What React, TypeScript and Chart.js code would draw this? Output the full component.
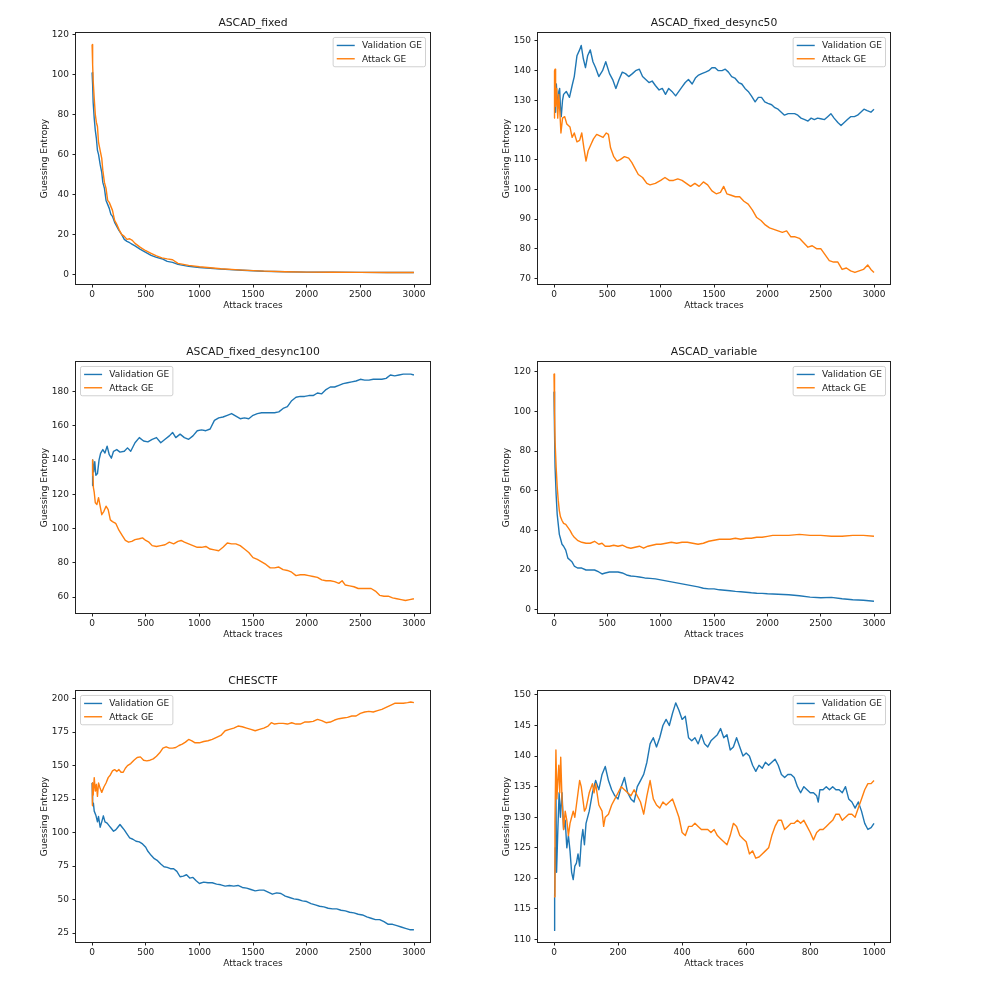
import React, { useEffect, useRef } from "react";
import { Chart, registerables } from "chart.js";

Chart.register(...registerables);

type P = [number, number];

const FONT = '"DejaVu Sans", "Liberation Sans", sans-serif';
const TXT = "#1a1a1a";
const BLUE = "#1f77b4";
const ORANGE = "#ff7f0e";

// ---------- text ----------
const titles = [
  "ASCAD_fixed",
  "ASCAD_fixed_desync50",
  "ASCAD_fixed_desync100",
  "ASCAD_variable",
  "CHESCTF",
  "DPAV42",
];
const seriesLabels = ["Validation GE", "Attack GE"];
const xLabel = "Attack traces";
const yLabel = "Guessing Entropy";

// ---------- ticks ----------
const xTicks3000 = [0, 500, 1000, 1500, 2000, 2500, 3000];
const xTicks1000 = [0, 200, 400, 600, 800, 1000];
const yTicksFixed = [0, 20, 40, 60, 80, 100, 120];
const yTicksD50 = [70, 80, 90, 100, 110, 120, 130, 140, 150];
const yTicksD100 = [60, 80, 100, 120, 140, 160, 180];
const yTicksVariable = [0, 20, 40, 60, 80, 100, 120];
const yTicksChes = [25, 50, 75, 100, 125, 150, 175, 200];
const yTicksDpa = [110, 115, 120, 125, 130, 135, 140, 145, 150];

// axis ranges (data extent + 5% margin)
const xRange3000 = [-149.95, 3148.95];
const xRange1000 = [-49.95, 1048.95];
const yRangeFixed = [-4.85, 120.8];
const yRangeD50 = [68.1, 152.7];
const yRangeD100 = [50.7, 197.1];
const yRangeVariable = [-1.7, 125.0];
const yRangeChes = [18.3, 205.7];
const yRangeDpa = [109.6, 150.65];

// ---------- data: [attack traces, guessing entropy] ----------
const fixedVal: P[] = [[0,101],[5,95],[10,86],[20,78],[30,72],[40,68],[50,62],[60,60],[75,55],[90,51],[100,46],[115,43],[130,37],[145,35],[160,33],[175,30],[190,29],[210,26],[230,24],[250,22],[275,20],[300,17.5],[325,16.5],[350,15.8],[375,15],[400,14.2],[450,12.5],[500,11],[550,9.5],[600,8.5],[650,7.8],[700,6.5],[750,6],[800,5],[900,4],[1000,3.4],[1100,3],[1200,2.6],[1400,2],[1600,1.5],[1800,1.3],[2000,1.1],[2250,1],[2500,0.95],[2750,0.9],[2999,0.9]];
const fixedAtk: P[] = [[0,115],[5,105],[10,97],[20,88],[30,80],[40,76],[50,74],[60,66],[75,62],[90,58],[100,52],[115,46],[130,43],[145,37],[160,36],[175,34],[190,32],[210,27],[230,25],[250,22.5],[275,20],[300,19],[325,17.5],[350,17.8],[375,17],[400,15.5],[450,13.5],[500,11.8],[550,10.5],[600,9.2],[650,8.2],[700,7.7],[750,7.3],[800,5.5],[900,4.5],[1000,3.8],[1100,3.3],[1200,2.8],[1400,2.1],[1600,1.6],[1800,1.3],[2000,1.1],[2250,1],[2500,0.95],[2750,0.9],[2999,0.9]];

const d50Val: P[] = [[0,128],[8,134],[15,126],[22,135.5],[30,130],[37,127.5],[45,133],[53,134],[60,128],[68,124.5],[80,130],[90,132],[115,133],[145,131],[170,135],[190,138],[215,145],[240,147],[255,148.5],[275,144],[295,141],[315,145],[340,147],[365,143],[390,141],[420,138],[455,140],[485,143],[520,139],[550,137],[580,134],[610,137],[640,139.5],[670,139],[700,138],[735,139],[765,140],[800,140.5],[830,138],[860,137],[890,136],[920,136.5],[950,135],[985,133.5],[1015,134],[1045,132],[1075,134],[1105,133],[1140,131.5],[1170,133],[1200,134.5],[1230,136],[1260,137],[1295,135.5],[1325,137.5],[1355,138.5],[1385,139],[1420,139.5],[1450,140],[1480,141],[1510,141],[1540,140],[1575,140],[1605,140.5],[1635,139.5],[1665,138],[1695,137.5],[1730,136],[1760,135.5],[1790,134],[1820,133],[1850,131.5],[1885,129.5],[1915,131],[1945,131],[1975,129.5],[2005,129],[2040,128.5],[2070,127.5],[2100,127],[2130,126],[2160,125],[2195,125.5],[2225,125.5],[2255,125.5],[2285,125],[2315,124],[2350,123.5],[2380,123],[2410,124],[2440,123.5],[2470,124],[2500,123.8],[2535,123.5],[2565,124.5],[2595,125.5],[2625,124],[2660,122.5],[2690,121.5],[2720,122.5],[2750,123.5],[2780,124.5],[2815,124.5],[2845,125],[2875,126],[2905,127],[2935,126.5],[2970,126],[2999,127]];
const d50Atk: P[] = [[0,124],[5,140],[10,140.5],[15,128],[25,134],[35,124],[45,132],[55,126],[65,119],[80,124],[100,124.5],[120,122],[150,121],[170,117.5],[190,119],[215,116],[240,116.5],[260,119],[280,114],[300,109.5],[320,113],[345,115],[370,117],[400,118.5],[430,118],[460,117.5],[490,119],[510,118.5],[530,114],[560,111],[590,109.5],[620,110],[660,111],[700,110.5],[730,109],[760,107],[790,105],[830,104],[870,102],[900,101.5],[950,102],[1000,103],[1040,104],[1080,103],[1120,103],[1160,103.5],[1200,103],[1240,102],[1280,101],[1320,102],[1360,101],[1400,102.5],[1440,101.5],[1480,99.5],[1520,98.5],[1560,99],[1590,101],[1620,98.5],[1660,98],[1700,97.5],[1740,97.5],[1780,96],[1820,95],[1860,93],[1900,90.5],[1940,89.5],[1980,88],[2020,87],[2060,86.5],[2100,86],[2140,85.5],[2180,86],[2220,84],[2260,84],[2300,83.5],[2340,82],[2380,80.5],[2420,81],[2460,80],[2500,80],[2540,78],[2580,76],[2620,75.5],[2660,75.5],[2700,73],[2740,73.5],[2780,72.5],[2820,72],[2860,72.5],[2900,73],[2940,74.5],[2970,73],[2999,72]];

const d100Val: P[] = [[0,125],[5,140],[15,133],[25,139],[35,131],[50,132],[65,140],[80,144],[100,146],[120,144],[140,148],[160,143],[180,141],[200,145],[230,146],[260,144.5],[300,145],[330,147],[360,145],[400,150],[440,153],[480,151],[520,150.5],[560,152],[600,153],[640,150],[680,152],[720,154],[750,156],[780,153],[820,155],[860,153],[900,152],[940,154],[980,157],[1020,157.5],[1060,157],[1100,158],[1140,163],[1180,164.5],[1220,165],[1260,166],[1300,167],[1340,165.5],[1380,164],[1420,164.5],[1460,164],[1500,166],[1540,167],[1580,167.5],[1620,167.5],[1660,167.5],[1700,167.5],[1740,168],[1780,170],[1820,171],[1860,174.5],[1900,176.5],[1940,177],[1980,177],[2020,177.5],[2060,177.5],[2100,179],[2140,178.5],[2180,181],[2220,182.5],[2260,182.5],[2300,183.5],[2340,184.5],[2380,185],[2420,185.5],[2460,186],[2500,187],[2540,186.5],[2580,186.5],[2620,187],[2660,187],[2700,187],[2740,187.5],[2780,189.5],[2820,189],[2860,189.5],[2900,190],[2940,190],[2970,190],[2999,189.5]];
const d100Atk: P[] = [[0,131],[5,140],[12,124],[20,121],[30,115],[45,114],[60,118],[75,113],[90,108],[110,110],[130,113],[150,111],[170,105],[190,104],[220,103],[250,99],[280,96],[310,93],[340,92],[370,92.5],[400,93.5],[440,94],[470,94.5],[500,93],[530,92],[560,90],[600,89.5],[640,90],[680,90.5],[720,92],[760,91],[800,92.5],[830,93],[860,92],[900,91],[940,90],[980,89],[1020,89],[1060,89.5],[1100,88],[1140,87.5],[1180,87],[1220,89],[1260,91.5],[1300,91],[1340,91],[1380,90],[1420,88],[1460,86],[1500,83],[1540,82],[1580,80.5],[1620,79],[1660,77],[1700,77],[1740,77.5],[1780,76],[1820,75.5],[1860,74.5],[1900,72.5],[1940,73],[1980,73],[2020,72.5],[2060,72],[2100,71.5],[2140,70],[2180,69.5],[2220,69.5],[2260,69],[2300,68],[2330,69.5],[2360,67],[2400,66.5],[2440,66],[2480,65],[2520,65],[2560,65],[2600,65],[2640,63.5],[2680,61],[2720,60.5],[2760,60.5],[2800,59.5],[2840,59],[2880,58.5],[2920,58],[2960,58.5],[2999,59]];

const varVal: P[] = [[0,110],[5,90],[10,72],[20,58],[30,48],[40,43],[50,38],[60,36],[75,33],[90,32],[110,30],[130,26],[150,25],[170,24],[190,22],[220,21],[260,21],[300,20],[340,20],[380,20],[420,19],[450,18],[480,18.5],[520,19],[560,19],[600,19],[640,18.5],[680,17.5],[720,17],[760,16.8],[800,16.5],[850,16],[900,15.8],[950,15.5],[1000,15],[1050,14.5],[1100,14],[1150,13.5],[1200,13],[1250,12.5],[1300,12],[1350,11.5],[1400,10.8],[1450,10.5],[1500,10.5],[1550,10],[1600,9.8],[1650,9.5],[1700,9.2],[1750,9],[1800,8.8],[1850,8.5],[1900,8.3],[1950,8.2],[2000,8],[2100,7.8],[2200,7.5],[2300,7],[2400,6.3],[2500,6],[2600,6.2],[2700,5.5],[2800,5],[2900,4.7],[2999,4.2]];
const varAtk: P[] = [[0,119],[5,100],[10,85],[20,72],[30,62],[40,55],[50,50],[60,47],[75,45],[90,43.5],[110,43],[130,41.5],[150,40],[170,38],[190,36.5],[220,35],[260,34],[300,33.5],[340,33.5],[380,34.5],[420,33],[450,33.5],[480,32],[520,32],[560,32.5],[600,32],[640,32.5],[680,31.5],[720,31],[760,31.5],[800,32],[840,31],[880,32],[920,32.5],[960,33],[1000,33],[1050,33.5],[1100,34],[1150,33.5],[1200,34],[1250,34],[1300,33.5],[1350,33],[1400,33.5],[1450,34.5],[1500,35],[1550,35.5],[1600,35.5],[1650,35.5],[1700,36],[1750,35.5],[1800,36],[1850,36],[1900,36.5],[1950,36.5],[2000,37],[2050,37.5],[2100,37.5],[2200,37.5],[2300,38],[2400,37.5],[2500,37.5],[2600,37],[2700,37],[2800,37.5],[2900,37.5],[2999,37]];

const chesVal: P[] = [[0,137],[5,121],[12,122],[20,116],[35,113],[50,108],[60,112],[75,104],[90,108],[105,112.5],[120,108],[140,107],[160,105],[180,103],[200,101],[220,102],[240,104],[260,106],[280,104],[300,102],[320,99.5],[350,96],[380,95],[410,93.5],[440,93],[470,91.5],[500,89],[520,86],[550,83],[580,80.5],[610,79],[640,76.5],[670,74.5],[700,74],[730,73],[760,73],[790,71],[820,67],[850,67.5],[880,68.5],[910,66],[940,66.5],[970,64],[1000,62],[1040,63],[1080,62.5],[1120,62.5],[1160,61.5],[1200,61],[1240,60],[1280,60.5],[1320,60],[1360,60.5],[1400,59],[1440,58.5],[1480,57.5],[1520,56.5],[1560,57],[1600,57],[1640,55.5],[1680,54],[1720,55],[1760,54.5],[1800,52.5],[1840,51.5],[1880,50.5],[1920,50],[1960,49],[2000,48.5],[2040,47],[2080,46],[2120,45],[2160,44.5],[2200,43.5],[2240,43],[2280,43],[2320,42],[2360,41.5],[2400,40.5],[2440,40],[2480,39],[2520,38.5],[2560,37],[2600,36],[2640,35],[2680,35],[2720,33.5],[2760,31.5],[2800,31.5],[2840,30.5],[2880,29.5],[2920,28.5],[2960,27.5],[2999,27.5]];
const chesAtk: P[] = [[0,120],[3,137],[10,128],[20,141],[30,131],[40,136],[50,127],[60,137],[75,133],[90,130],[110,134],[130,137],[150,141],[170,143],[190,146],[210,147],[230,145.5],[250,147],[270,145],[290,145],[310,148],[330,150],[360,151.5],[390,154],[420,156],[450,156.5],[480,154],[510,153.5],[540,154],[570,155],[600,157],[630,159.5],[660,163],[690,164],[720,163],[750,163],[780,163.5],[810,165],[840,166],[870,167.5],[900,169.5],[930,168.5],[960,167],[1000,167],[1040,168],[1080,168.5],[1120,169.5],[1160,171],[1200,172.5],[1240,176],[1280,177],[1320,178],[1360,179.5],[1400,179],[1440,178],[1480,177],[1520,176],[1560,177],[1600,178],[1640,179.5],[1670,182],[1700,181],[1740,181.5],[1780,181.5],[1820,181],[1860,182],[1900,181],[1940,181],[1980,182.5],[2020,182.5],[2060,183],[2100,184.5],[2140,183.5],[2180,182],[2220,182.5],[2260,184],[2300,185],[2340,185.5],[2380,186],[2420,187],[2460,187],[2500,189],[2540,190],[2580,190.5],[2620,190],[2660,191],[2700,192],[2740,193.5],[2780,195],[2820,196.5],[2860,196.5],[2900,196.5],[2940,197],[2970,197.5],[2999,197]];

const dpaVal: P[] = [[0,111.5],[2,117],[4,125],[6,134],[8,121],[12,128],[16,134],[20,130],[25,134],[30,128],[35,129.5],[40,125],[45,127],[50,124.5],[55,121],[60,119.8],[65,122],[70,122.5],[75,124],[80,122],[85,126],[90,128],[95,125.5],[100,129],[110,131],[120,134],[130,136],[140,134.5],[150,137],[160,138.3],[170,136],[180,134.5],[190,133.5],[200,133],[210,135],[220,136.5],[230,134],[240,133],[250,132.5],[260,135],[270,136],[280,137],[290,139],[300,142],[310,143],[320,141.5],[330,143],[340,145],[350,146],[360,145],[370,147],[380,148.7],[390,147.5],[400,146],[410,146.5],[420,143],[430,142.5],[440,143],[450,142],[460,143.5],[470,142],[480,141.5],[490,142.5],[500,143],[510,143.5],[520,144.5],[530,143],[540,143.5],[550,141],[560,141.5],[570,143],[580,141.5],[590,140],[600,140.5],[610,140],[620,138.5],[630,137.5],[640,138.5],[650,138],[660,139],[670,138.5],[680,139],[690,139.5],[700,138.5],[710,137],[720,136.5],[730,137],[740,137],[750,136.5],[760,135],[770,134],[780,135],[790,134.5],[800,134],[810,134],[820,133.5],[825,132.5],[830,134.5],[840,134.5],[850,135],[860,134.5],[870,135],[880,134.5],[890,134.5],[900,134],[910,135],[920,133],[930,132.5],[940,131.5],[950,132.5],[960,131],[970,129],[980,128],[990,128.3],[999,129]];
const dpaAtk: P[] = [[0,117],[3,129],[6,141],[9,133],[12,136],[15,138.5],[18,134],[21,139.8],[25,133],[30,128],[35,131],[40,129.5],[45,127],[50,129],[55,130],[60,131],[65,130],[70,132],[75,134],[80,136],[85,135],[90,133],[95,131],[100,131.5],[110,134],[120,135.5],[125,134],[130,135.5],[140,132],[150,131],[155,128.5],[160,130],[170,130.5],[180,132],[190,133],[200,134],[210,135],[220,134.5],[230,134],[240,133.5],[250,134.5],[260,133.5],[270,132.5],[280,130.5],[290,133.5],[300,136],[310,133],[320,132],[330,131.5],[340,132.5],[350,132],[360,132.5],[370,133],[380,131.5],[390,130],[400,127.5],[410,127],[420,128.5],[430,128.5],[440,129],[450,128.5],[460,128],[470,128],[480,128],[490,127.5],[500,128],[510,127],[520,126.5],[530,126],[540,125.5],[550,127],[560,129],[570,128.5],[580,127],[590,126.5],[600,126],[610,124],[620,124.5],[630,123.3],[640,123.5],[650,124],[660,124.5],[670,125],[680,127],[690,128.5],[700,129.5],[710,129.5],[720,128],[730,128.5],[740,129],[750,129],[760,129.5],[770,129],[780,129.5],[790,128.5],[800,127.5],[810,126.3],[820,127.5],[830,128],[840,128],[850,128.5],[860,129],[870,129.5],[880,130.5],[890,130.5],[900,129.5],[910,130],[920,130.5],[930,130.5],[940,130],[950,131.5],[960,133],[970,134.5],[980,135.5],[990,135.5],[999,136]];

// ---------- layout ----------
const COL_L = [76, 538];
const COL_W = [354, 352];
const ROW_T = [33, 362, 691];
const ROW_H = 251;
const PAD_L = 62;
const PAD_T = 33;
const PAD_B = 36;
const PAD_R = 24;

type PanelCfg = {
  title: string;
  val: P[];
  atk: P[];
  xTicks: number[];
  xRange: number[];
  yTicks: number[];
  yRange: number[];
  legend: "left" | "right";
  col: number;
  row: number;
};

const panels: PanelCfg[] = [
  { title: titles[0], val: fixedVal, atk: fixedAtk, xTicks: xTicks3000, xRange: xRange3000, yTicks: yTicksFixed, yRange: yRangeFixed, legend: "right", col: 0, row: 0 },
  { title: titles[1], val: d50Val, atk: d50Atk, xTicks: xTicks3000, xRange: xRange3000, yTicks: yTicksD50, yRange: yRangeD50, legend: "right", col: 1, row: 0 },
  { title: titles[2], val: d100Val, atk: d100Atk, xTicks: xTicks3000, xRange: xRange3000, yTicks: yTicksD100, yRange: yRangeD100, legend: "left", col: 0, row: 1 },
  { title: titles[3], val: varVal, atk: varAtk, xTicks: xTicks3000, xRange: xRange3000, yTicks: yTicksVariable, yRange: yRangeVariable, legend: "right", col: 1, row: 1 },
  { title: titles[4], val: chesVal, atk: chesAtk, xTicks: xTicks3000, xRange: xRange3000, yTicks: yTicksChes, yRange: yRangeChes, legend: "left", col: 0, row: 2 },
  { title: titles[5], val: dpaVal, atk: dpaAtk, xTicks: xTicks1000, xRange: xRange1000, yTicks: yTicksDpa, yRange: yRangeDpa, legend: "right", col: 1, row: 2 },
];

// ---------- plugins ----------
const framePlugin = {
  id: "mplFrame",
  afterDatasetsDraw(chart: any) {
    const { ctx, chartArea } = chart;
    const { left, top, right, bottom } = chartArea;
    ctx.save();
    ctx.strokeStyle = "#222";
    ctx.lineWidth = 1;
    ctx.strokeRect(Math.round(left) - 0.5, Math.round(top) - 0.5, Math.round(right - left) + 1, Math.round(bottom - top) + 1);
    ctx.restore();
  },
};

const legendPlugin = {
  id: "mplLegend",
  afterDraw(chart: any, _args: any, opts: any) {
    const { ctx, chartArea } = chart;
    const fs = 9;
    const pad = 0.4 * fs;
    const hl = 2 * fs;
    const htp = 0.8 * fs;
    const ls = 0.5 * fs;
    const bap = 0.5 * fs;
    const rowH = 8.8;
    const items = chart.data.datasets.map((d: any) => ({ label: d.label, color: d.borderColor, width: d.borderWidth }));
    ctx.save();
    ctx.font = `${fs}px ${FONT}`;
    const textW = Math.max(...items.map((it: any) => ctx.measureText(it.label).width));
    const w = pad + hl + htp + textW + pad;
    const h = 2 * pad + items.length * rowH + (items.length - 1) * ls;
    const x = opts.loc === "left" ? chartArea.left + bap : chartArea.right - bap - w;
    const y = chartArea.top + bap;
    const r = 0.2 * fs;
    ctx.beginPath();
    ctx.moveTo(x + r, y);
    ctx.lineTo(x + w - r, y);
    ctx.arcTo(x + w, y, x + w, y + r, r);
    ctx.lineTo(x + w, y + h - r);
    ctx.arcTo(x + w, y + h, x + w - r, y + h, r);
    ctx.lineTo(x + r, y + h);
    ctx.arcTo(x, y + h, x, y + h - r, r);
    ctx.lineTo(x, y + r);
    ctx.arcTo(x, y, x + r, y, r);
    ctx.closePath();
    ctx.fillStyle = "rgba(255,255,255,0.8)";
    ctx.fill();
    ctx.strokeStyle = "#cccccc";
    ctx.lineWidth = 0.9;
    ctx.stroke();
    items.forEach((it: any, i: number) => {
      const cy = y + pad + rowH / 2 + i * (rowH + ls);
      ctx.beginPath();
      ctx.moveTo(x + pad, cy);
      ctx.lineTo(x + pad + hl, cy);
      ctx.strokeStyle = it.color;
      ctx.lineWidth = it.width;
      ctx.stroke();
      ctx.fillStyle = TXT;
      ctx.textBaseline = "middle";
      ctx.textAlign = "left";
      ctx.fillText(it.label, x + pad + hl + htp, cy + 0.5);
    });
    ctx.restore();
  },
};

const toPoints = (arr: P[]) => arr.map(([x, y]) => ({ x, y }));

function Panel({ cfg }: { cfg: PanelCfg }) {
  const ref = useRef<HTMLCanvasElement>(null);
  const W = PAD_L + COL_W[cfg.col] + PAD_R;
  const H = PAD_T + ROW_H + PAD_B;
  const left = COL_L[cfg.col] - PAD_L;
  const top = ROW_T[cfg.row] - PAD_T;

  useEffect(() => {
    const canvas = ref.current;
    if (!canvas) return;
    const tickFont = { family: FONT, size: 9 };
    const chart = new Chart(canvas, {
      type: "line",
      data: {
        datasets: [
          { label: seriesLabels[0], data: toPoints(cfg.val), borderColor: BLUE, backgroundColor: BLUE, borderWidth: 1.4, pointRadius: 0, tension: 0, order: 2, borderJoinStyle: "round" },
          { label: seriesLabels[1], data: toPoints(cfg.atk), borderColor: ORANGE, backgroundColor: ORANGE, borderWidth: 1.4, pointRadius: 0, tension: 0, order: 1, borderJoinStyle: "round" },
        ],
      },
      options: {
        responsive: false,
        animation: false,
        devicePixelRatio: 1,
        events: [],
        layout: { padding: { left: 0, top: 0, right: PAD_R, bottom: 0 } },
        plugins: {
          legend: { display: false },
          tooltip: { enabled: false },
          title: {
            display: true,
            text: cfg.title,
            fullSize: false,
            color: TXT,
            font: { family: FONT, size: 10.8, weight: "normal" },
            padding: { top: 17, bottom: 3 },
          },
          mplLegend: { loc: cfg.legend },
        } as any,
        scales: {
          x: {
            type: "linear",
            min: cfg.xRange[0],
            max: cfg.xRange[1],
            afterBuildTicks: (s: any) => { s.ticks = cfg.xTicks.map((v) => ({ value: v })); },
            afterFit: (s: any) => { s.height = PAD_B; },
            ticks: { autoSkip: false, maxRotation: 0, minRotation: 0, padding: 2, color: TXT, font: tickFont, callback: (v: any) => String(v) },
            grid: { drawOnChartArea: false, drawTicks: true, tickLength: 3.5, tickColor: "#222", tickWidth: 1 },
            border: { display: false },
            title: { display: true, text: xLabel, color: TXT, font: tickFont, padding: { top: 0, bottom: 8.6 } },
          },
          y: {
            type: "linear",
            min: cfg.yRange[0],
            max: cfg.yRange[1],
            afterBuildTicks: (s: any) => { s.ticks = cfg.yTicks.map((v) => ({ value: v })); },
            afterFit: (s: any) => { s.width = PAD_L; },
            ticks: { autoSkip: false, padding: 3.5, color: TXT, font: tickFont, callback: (v: any) => String(v) },
            grid: { drawOnChartArea: false, drawTicks: true, tickLength: 3.5, tickColor: "#222", tickWidth: 1 },
            border: { display: false },
            title: { display: true, text: yLabel, color: TXT, font: tickFont, padding: { top: 25.6, bottom: 0 } },
          },
        },
      } as any,
      plugins: [framePlugin, legendPlugin],
    });
    return () => chart.destroy();
  }, [cfg]);

  return (
    <canvas
      ref={ref}
      width={W}
      height={H}
      style={{ position: "absolute", left, top, width: W, height: H, display: "block" }}
    />
  );
}

export default function App() {
  return (
    <div style={{ position: "absolute", left: 0, top: 0, width: 981, height: 985, background: "#fff", overflow: "hidden" }}>
      {panels.map((p, i) => (
        <Panel key={i} cfg={p} />
      ))}
    </div>
  );
}
